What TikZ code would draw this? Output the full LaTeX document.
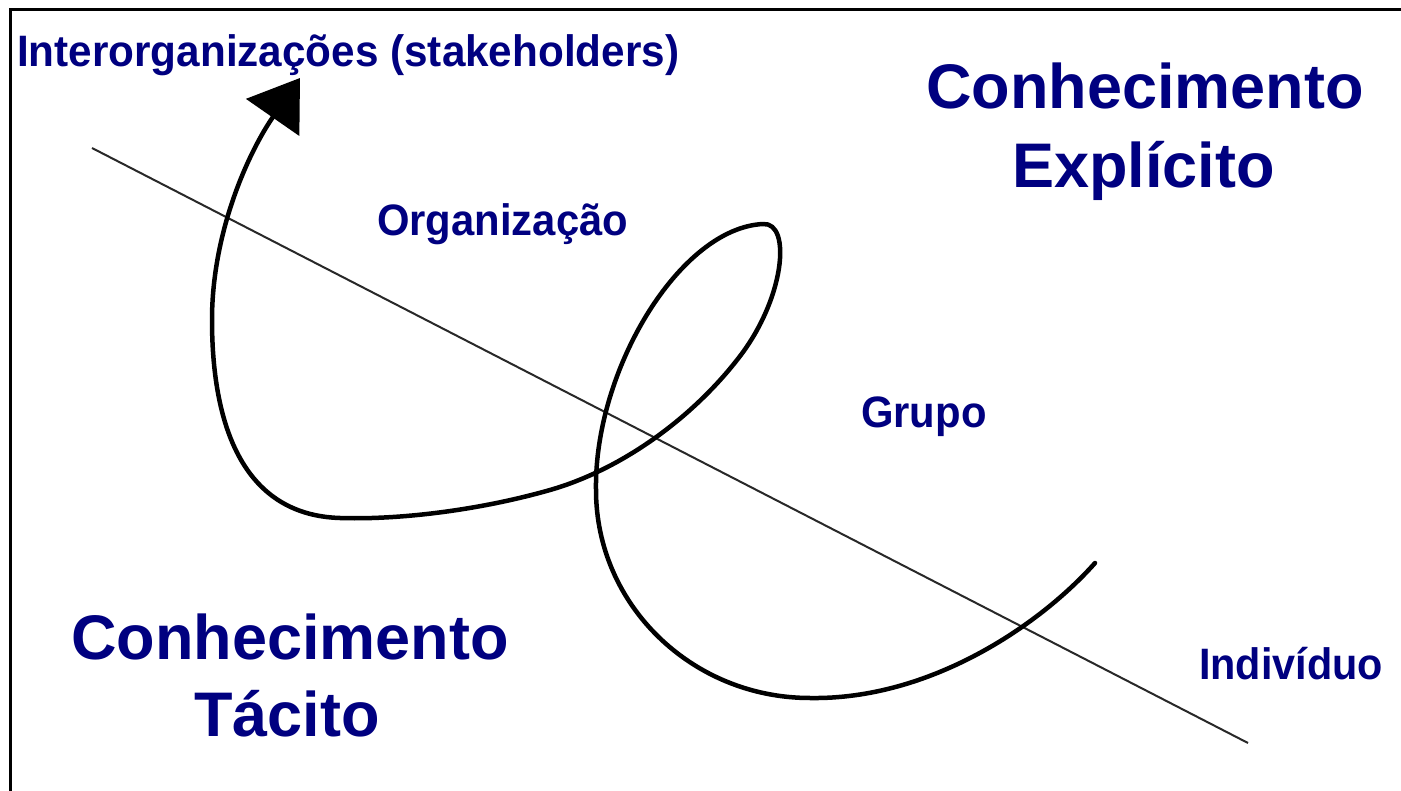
\documentclass[tikz,border=0pt]{standalone}
\usepackage{fontspec}
\setmainfont{Liberation Sans}
\usetikzlibrary{arrows.meta}
\definecolor{navytext}{RGB}{0,0,128}
\definecolor{axisgray}{RGB}{40,40,40}
\tikzset{
  bigtext/.style={anchor=base west, inner sep=0pt, text=navytext, font=\bfseries\fontsize{63}{70}\selectfont},
  smalltext/.style={anchor=base west, inner sep=0pt, text=navytext, font=\bfseries\fontsize{44}{50}\selectfont},
  spiral/.style={line width=4.5pt, black, line cap=round, line join=round, -{Triangle[length=48pt,width=64pt]}},
  axisline/.style={line width=2pt, axisgray},
  frameline/.style={line width=3pt, black}
}
\begin{document}
\begin{tikzpicture}[x=1pt,y=-1pt]
\useasboundingbox (0,0) rectangle (1401,791);
\fill[white] (0,0) rectangle (1401,791);
% frame (top and left edges)
\coordinate (fbl) at (10,791);
\coordinate (ftl) at (10,10);
\coordinate (ftr) at (1401,10);
\draw[frameline] (fbl) -- (ftl) -- (ftr);
% straight dividing line
\coordinate (la) at (92,148);
\coordinate (lb) at (1248,743);
\draw[axisline] (la) -- (lb);
% spiral
\coordinate (s0) at (1095,563);
\coordinate (s1) at (810,698);
\coordinate (s2) at (596,490);
\coordinate (s3) at (763,224);
\coordinate (s4) at (737,360);
\coordinate (s5) at (550,490);
\coordinate (s6) at (340,518);
\coordinate (s7) at (212,320);
\coordinate (tip) at (300,78);
\draw[spiral] (s0)
  .. controls (1040,625) and (930,700) .. (s1)
  .. controls (692,698) and (596,605) .. (s2)
  .. controls (594,370) and (680,228) .. (s3)
  .. controls (792,222) and (785,300) .. (s4)
  .. controls (690,420) and (620,470) .. (s5)
  .. controls (480,510) and (400,520) .. (s6)
  .. controls (240,515) and (212,420) .. (s7)
  .. controls (212,230) and (250,150) .. (tip);
% texts
\node[smalltext] (inter) at (17,67) {\scalebox{0.96}[1]{Interorganizações (stakeholders)}};
\node[bigtext] (ce1) at (926,109) {Conhecimento};
\node[bigtext] (ce2) at (1012,188) {Explícito};
\node[smalltext] (org) at (377,236) {\scalebox{0.95}[1]{Organização}};
\node[smalltext] (grupo) at (861,428) {\scalebox{0.95}[1]{Grupo}};
\node[smalltext] (ind) at (1199,679) {\scalebox{0.94}[1]{Indivíduo}};
\node[bigtext] (ct1) at (71,659) {Conhecimento};
\node[bigtext] (ct2) at (194,736) {Tácito};
\end{tikzpicture}
\end{document}
